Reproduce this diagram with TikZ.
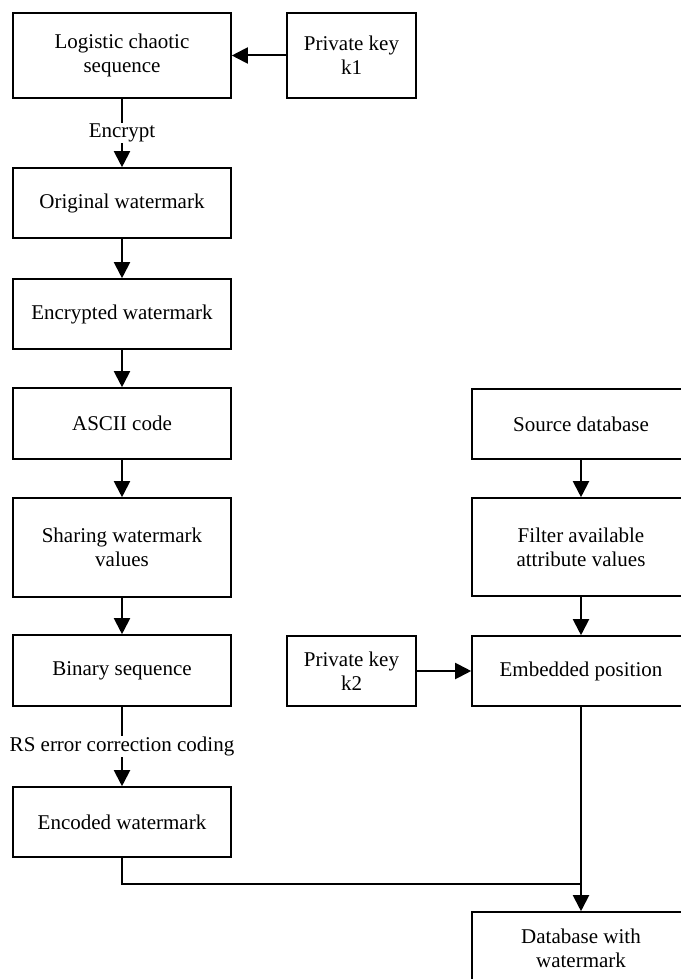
\documentclass[tikz,border=0pt]{standalone}
\usepackage{fontspec}
\setmainfont{Liberation Serif}
\usetikzlibrary{arrows.meta}
\begin{document}
\begin{tikzpicture}[x=1pt,y=-1pt,
  box/.style={draw,line width=1.6pt,rectangle,align=center,inner sep=0pt,
    font=\fontsize{21}{24}\selectfont},
  arr/.style={line width=2pt,-{Triangle[length=16pt,width=16pt]}},
  conn/.style={line width=2pt},
  lbl/.style={fill=white,inner sep=1pt,font=\fontsize{21}{24}\selectfont}]
\useasboundingbox (0,0) rectangle (680,979);
\node[box,minimum width=218pt,minimum height=85pt] (logistic) at (122,55.5) {Logistic chaotic\\sequence};
\node[box,minimum width=129pt,minimum height=85pt] (k1) at (351.5,55.5) {Private key\\k1};
\node[box,minimum width=218pt,minimum height=70pt] (orig) at (122,203) {Original watermark};
\node[box,minimum width=218pt,minimum height=70pt] (enc) at (122,314) {Encrypted watermark};
\node[box,minimum width=218pt,minimum height=71pt] (ascii) at (122,423.5) {ASCII code};
\node[box,minimum width=218pt,minimum height=99pt] (sharing) at (122,547.5) {Sharing watermark\\values};
\node[box,minimum width=218pt,minimum height=71pt] (binary) at (122,670.5) {Binary sequence};
\node[box,minimum width=218pt,minimum height=70pt] (encoded) at (122,822) {Encoded watermark};
\node[box,minimum width=218pt,minimum height=70pt] (source) at (581,424) {Source database};
\node[box,minimum width=218pt,minimum height=98pt] (filter) at (581,547) {Filter available\\attribute values};
\node[box,minimum width=129pt,minimum height=70pt] (k2) at (351.5,671) {Private key\\k2};
\node[box,minimum width=218pt,minimum height=70pt] (embedded) at (581,671) {Embedded position};
\node[box,minimum width=218pt,minimum height=72pt] (dbw) at (581,948) {Database with\\watermark};
\coordinate (j) at (581,884);

\draw[arr] (k1.west) -- (logistic.east);
\draw[arr] (logistic.south) -- node[lbl] (encrypt) {Encrypt} (orig.north);
\draw[arr] (orig.south) -- (enc.north);
\draw[arr] (enc.south) -- (ascii.north);
\draw[arr] (ascii.south) -- (sharing.north);
\draw[arr] (sharing.south) -- (binary.north);
\draw[arr] (binary.south) -- node[lbl] (rs) {RS error correction coding} (encoded.north);
\draw[arr] (source.south) -- (filter.north);
\draw[arr] (filter.south) -- (embedded.north);
\draw[arr] (k2.east) -- (embedded.west);
\draw[arr] (embedded.south) -- (dbw.north);
\draw[conn] (encoded.south) |- (j);
\end{tikzpicture}
\end{document}
